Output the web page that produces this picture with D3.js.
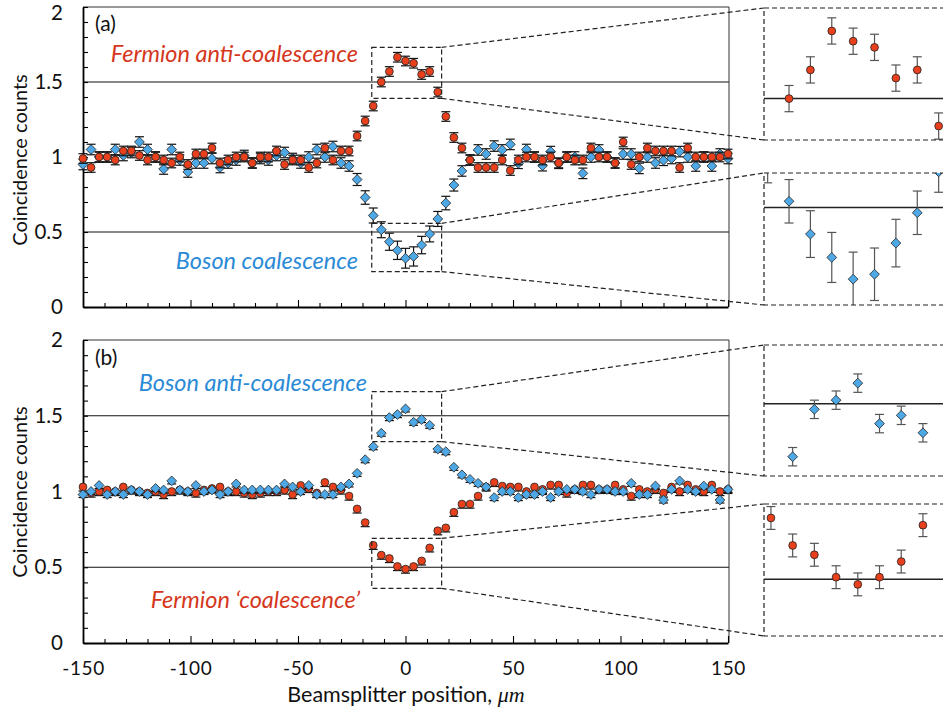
<!DOCTYPE html>
<html lang="en">
<head>
<meta charset="UTF-8">
<title>Coincidence counts</title>
<style>
body { margin: 0; background: #fff; }
svg { display: block; font-family: Lato, "Open Sans", sans-serif; }
</style>
</head>
<body>
<svg id="chart" width="943" height="715"></svg>
<script src="https://cdn.jsdelivr.net/npm/d3@7"></script>
<script>
// beamsplitter positions (um)
const positions = [-150,-146.25,-142.5,-138.75,-135,-131.25,-127.5,-123.75,-120,-116.25,
  -112.5,-108.75,-105,-101.25,-97.5,-93.75,-90,-86.25,-82.5,-78.75,
  -75,-71.25,-67.5,-63.75,-60,-56.25,-52.5,-48.75,-45,-41.25,
  -37.5,-33.75,-30,-26.25,-22.5,-18.75,-15,-11.25,-7.5,-3.75,
  0,3.75,7.5,11.25,15,18.75,22.5,26.25,30,33.75,
  37.5,41.25,45,48.75,52.5,56.25,60,63.75,67.5,71.25,
  75,78.75,82.5,86.25,90,93.75,97.5,101.25,105,108.75,
  112.5,116.25,120,123.75,127.5,131.25,135,138.75,142.5,146.25,150];

// panel (a)
const fermionA = [0.99,0.93,1.00,1.00,0.98,1.04,1.04,1.01,0.98,1.00,
  0.98,0.96,1.00,0.95,1.02,1.02,1.06,0.96,0.98,1.00,
  1.00,0.96,1.00,1.00,1.04,0.95,0.98,0.98,0.93,0.96,
  1.06,0.98,1.04,1.04,1.14,1.24,1.34,1.50,1.57,1.665,
  1.64,1.625,1.55,1.57,1.433,1.27,1.13,1.06,0.98,0.93,
  0.93,0.93,0.98,0.91,0.98,1.00,1.00,0.98,1.00,0.96,
  1.00,0.98,0.98,1.06,1.00,1.00,0.96,1.10,0.95,1.00,
  1.06,1.04,1.04,1.04,0.93,1.06,1.00,1.00,1.00,1.00,1.02];
const bosonA = [0.95,1.05,1.00,1.00,1.05,1.01,1.03,1.10,1.05,1.00,
  0.92,1.05,0.98,0.90,0.96,0.96,0.99,0.93,0.96,0.98,
  1.01,0.96,0.99,0.98,1.01,1.03,0.99,0.96,1.00,1.05,
  1.00,1.07,0.96,0.94,0.85,0.73,0.61,0.515,0.435,0.378,
  0.325,0.337,0.413,0.487,0.587,0.693,0.813,0.907,0.98,1.047,
  1.02,1.073,1.047,1.084,0.958,1.05,1.00,0.942,1.036,0.958,
  1.00,1.00,0.891,1.00,1.047,1.00,0.96,1.02,1.02,0.924,
  1.00,0.96,0.978,0.99,1.036,1.00,0.94,1.00,0.94,1.02,0.99];
const errFermionA = 0.032;
const errBosonA = [0.035,0.035,0.035,0.035,0.035,0.035,0.035,0.035,0.035,0.035,
  0.035,0.035,0.035,0.035,0.035,0.035,0.035,0.035,0.035,0.035,
  0.035,0.035,0.035,0.035,0.035,0.035,0.035,0.035,0.035,0.035,
  0.035,0.035,0.035,0.035,0.04,0.045,0.05,0.053,0.057,0.061,
  0.066,0.064,0.058,0.053,0.05,0.045,0.04,0.035,0.035,0.035,
  0.035,0.035,0.035,0.035,0.035,0.035,0.035,0.035,0.035,0.035,
  0.035,0.035,0.035,0.035,0.035,0.035,0.035,0.035,0.035,0.035,
  0.035,0.035,0.035,0.035,0.035,0.035,0.035,0.035,0.035,0.035,0.035];

// panel (b)
const fermionB = [1.03,0.99,1.00,1.01,1.00,1.03,1.01,1.00,0.99,1.00,
  0.98,1.00,1.01,1.00,0.99,1.01,1.02,1.03,1.00,1.00,
  0.99,0.98,0.99,1.00,1.00,1.01,0.98,1.04,1.02,0.99,
  1.06,1.03,1.01,0.97,0.885,0.795,0.645,0.58,0.558,0.505,
  0.488,0.505,0.542,0.628,0.741,0.76,0.863,0.917,0.917,0.97,
  1.03,1.06,1.036,1.03,1.03,1.00,1.03,1.014,1.043,1.043,
  0.99,1.014,1.043,1.043,1.014,1.014,1.043,1.014,0.97,1.014,
  1.00,1.014,0.99,1.03,1.00,1.043,1.014,1.00,1.043,1.00,1.014];
const bosonB = [0.98,1.00,1.04,0.98,1.00,0.98,1.01,1.00,0.98,1.02,
  1.01,1.07,1.01,1.00,1.04,1.00,1.01,0.98,1.00,1.05,
  1.01,1.01,1.01,1.01,1.01,1.05,1.03,1.00,1.04,0.98,
  0.98,0.98,1.03,1.05,1.12,1.21,1.296,1.385,1.488,1.508,
  1.545,1.457,1.475,1.437,1.28,1.263,1.16,1.11,1.08,1.054,
  1.03,0.96,1.00,1.00,0.96,0.98,0.98,1.00,0.96,1.00,
  1.014,1.014,1.00,0.98,1.014,1.014,1.00,1.00,1.054,0.98,
  0.98,1.036,0.944,1.014,1.07,1.014,1.00,1.036,1.014,0.944,1.014];
const errFermionB = 0.027;
const errBosonB = 0.02;

const yTicks = [0, 0.5, 1, 1.5, 2];
const xTicks = [-150, -100, -50, 0, 50, 100, 150];
const refLevels = [0.5, 1.5];

const red = "#e8401c", blue = "#4ea8e6";
const redText = "#d5371d", blueText = "#2b8ad6";

const svg = d3.select("#chart");
const x = d3.scaleLinear().domain([-150, 150]).range([83, 728]);
const insetLeft = 764;

function errOf(e, i) { return Array.isArray(e) ? e[i] : e; }

function marker(sel, shape, color) {
  if (shape === "circle") {
    sel.append("circle").attr("r", 3.9).attr("fill", color)
      .attr("stroke", "#222").attr("stroke-width", 0.8);
  } else {
    const s = 4.9;
    sel.append("path").attr("d", `M0,${-s}L${s},0L0,${s}L${-s},0Z`).attr("fill", color)
      .attr("stroke", "#222").attr("stroke-width", 0.8);
  }
}

function drawSeries(g, xs, ys, vals, err, shape, color, lowerOnly, barColor) {
  const pts = vals.map((v, i) => ({ x: positions[i], v: v, e: errOf(err, i) }));
  const eb = g.append("g").attr("stroke", barColor).attr("stroke-width", 1.2);
  pts.forEach(d => {
    const cx = xs(d.x), lo = ys(d.v - d.e), hi = lowerOnly ? ys(d.v) : ys(d.v + d.e);
    eb.append("line").attr("x1", cx).attr("x2", cx).attr("y1", lo).attr("y2", hi);
    eb.append("line").attr("x1", cx - 4.5).attr("x2", cx + 4.5).attr("y1", lo).attr("y2", lo);
    if (!lowerOnly) eb.append("line").attr("x1", cx - 4.5).attr("x2", cx + 4.5).attr("y1", hi).attr("y2", hi);
  });
  g.append("g").selectAll("g").data(pts).join("g")
    .attr("transform", d => `translate(${xs(d.x)},${ys(d.v)})`)
    .each(function () { marker(d3.select(this), shape, color); });
}

const panels = [
  {
    label: "(a)", top: 7, bottom: 307, labelY: 31, titleY: 160, lowerOnly: false,
    back: { vals: bosonA, err: errBosonA, shape: "diamond", color: blue },
    front: { vals: fermionA, err: errFermionA, shape: "circle", color: red },
    notes: [
      { text: "Fermion anti-coalescence", color: redText, x: 358, y: 62 },
      { text: "Boson coalescence", color: blueText, x: 358, y: 269 }
    ],
    zooms: [
      { vals: fermionA, err: errFermionA, shape: "circle", color: red, ref: 1.5,
        boxX: [-15.7, 16.8], boxY: [1.391, 1.731],
        inTop: 8, inBottom: 140, inY: [1.399, 1.721], inX0: -15.64, pxPerUm: 5.70 },
      { vals: bosonA, err: errBosonA, shape: "diamond", color: blue, ref: 0.5,
        boxX: [-15.7, 16.8], boxY: [0.236, 0.558],
        inTop: 173, inBottom: 305, inY: [0.262, 0.584], inX0: -15.64, pxPerUm: 5.70 }
    ]
  },
  {
    label: "(b)", top: 340, bottom: 643, labelY: 365, titleY: 492, lowerOnly: true,
    back: { vals: fermionB, err: errFermionB, shape: "circle", color: red },
    front: { vals: bosonB, err: errBosonB, shape: "diamond", color: blue },
    notes: [
      { text: "Boson anti-coalescence", color: blueText, x: 367, y: 391 },
      { text: "Fermion \u2018coalescence\u2019", color: redText, x: 360, y: 608 }
    ],
    zooms: [
      { vals: bosonB, err: errBosonB, shape: "diamond", color: blue, ref: 1.5,
        boxX: [-15.7, 16.8], boxY: [1.329, 1.659],
        inTop: 345, inBottom: 476, inY: [1.343, 1.628], inX0: -16.2, pxPerUm: 5.79 },
      { vals: fermionB, err: errFermionB, shape: "circle", color: red, ref: 0.5,
        boxX: [-15.7, 16.8], boxY: [0.361, 0.691],
        inTop: 504, inBottom: 636, inY: [0.366, 0.678], inX0: -16.2, pxPerUm: 5.79 }
    ]
  }
];

panels.forEach((p, pi) => {
  const y = d3.scaleLinear().domain([0, 2]).range([p.bottom, p.top]);
  const g = svg.append("g");

  // reference lines
  g.selectAll(".ref").data(refLevels).join("line")
    .attr("x1", x(-150)).attr("x2", x(150) + 1)
    .attr("y1", d => y(d)).attr("y2", d => y(d))
    .attr("stroke", "#111").attr("stroke-width", 1);

  // top and right frame
  g.append("path").attr("d", `M${x(-150)},${y(2)}H${x(150) + 1}V${y(0)}`)
    .attr("fill", "none").attr("stroke", "#333").attr("stroke-width", 1);

  // y axis, inner minor ticks
  const ya = g.append("g").attr("transform", `translate(${x(-150)},0)`)
    .call(d3.axisLeft(y).tickValues(d3.range(0, 2.001, 0.1)).tickSize(-5).tickSizeOuter(0).tickFormat(""));
  ya.select(".domain").attr("stroke-width", 1.8);
  ya.selectAll(".tick line").attr("stroke-width", 1.1);

  const yl = g.append("g").attr("transform", `translate(${x(-150)},0)`)
    .call(d3.axisLeft(y).tickValues(yTicks).tickSize(0).tickPadding(20).tickFormat(d => String(d)));
  yl.select(".domain").remove();
  yl.selectAll("text").attr("font-size", 20.5).attr("fill", "#111")
    .attr("font-family", "Lato, 'Open Sans', sans-serif");
  if (pi === 0) yl.selectAll("text").filter(d => d === 2).attr("dy", "0.62em");

  // x axis, inner ticks every 10
  const xa = g.append("g").attr("transform", `translate(0,${y(0)})`)
    .call(d3.axisBottom(x).tickValues(d3.range(-150, 151, 10)).tickSize(-4).tickSizeOuter(0).tickFormat(""));
  xa.select(".domain").attr("stroke-width", 1.8);
  xa.selectAll(".tick line").attr("stroke-width", 1.1)
    .filter(d => d % 50 === 0).attr("y2", -7);

  if (pi === 1) {
    const xl = g.append("g").attr("transform", `translate(0,${y(0)})`)
      .call(d3.axisBottom(x).tickValues(xTicks).tickSize(0).tickPadding(19).tickFormat(d => String(d)));
    xl.select(".domain").remove();
    xl.selectAll("text").attr("font-size", 19).attr("fill", "#111")
      .attr("letter-spacing", 0.6)
      .attr("font-family", "Lato, 'Open Sans', sans-serif");
  }

  // data
  drawSeries(g, x, y, p.back.vals, p.back.err, p.back.shape, p.back.color, p.lowerOnly, "#111");
  drawSeries(g, x, y, p.front.vals, p.front.err, p.front.shape, p.front.color, p.lowerOnly, "#111");

  // panel label and notes
  g.append("text").attr("x", 95).attr("y", p.labelY).attr("font-size", 21).attr("fill", "#111").text(p.label);
  p.notes.forEach(n => {
    g.append("text").attr("x", n.x).attr("y", n.y).attr("text-anchor", "end")
      .attr("font-size", 23.5).attr("font-style", "italic").attr("fill", n.color).text(n.text);
  });

  g.append("text").attr("transform", `translate(27,${p.titleY}) rotate(-90)`)
    .attr("text-anchor", "middle").attr("font-size", 20).attr("fill", "#111")
    .text("Coincidence counts");

  // zoom boxes and insets
  p.zooms.forEach((z, zi) => {
    const bx0 = x(z.boxX[0]), bx1 = x(z.boxX[1]);
    const by0 = y(z.boxY[1]), by1 = y(z.boxY[0]);
    const dash = { stroke: "#222", "stroke-width": 1.2, "stroke-dasharray": "5,3", fill: "none" };
    const setDash = s => { Object.entries(dash).forEach(([k, v]) => s.attr(k, v)); return s; };

    setDash(g.append("rect").attr("x", bx0).attr("y", by0).attr("width", bx1 - bx0).attr("height", by1 - by0));
    setDash(g.append("line").attr("x1", bx1).attr("y1", by0).attr("x2", insetLeft).attr("y2", z.inTop));
    setDash(g.append("line").attr("x1", bx1).attr("y1", by1).attr("x2", insetLeft).attr("y2", z.inBottom));

    const ix = d3.scaleLinear().domain([z.inX0, z.inX0 + 40]).range([insetLeft, insetLeft + 40 * z.pxPerUm]);
    const iy = d3.scaleLinear().domain(z.inY).range([z.inBottom, z.inTop]);
    const cid = `clip${pi}${zi}`;
    svg.append("clipPath").attr("id", cid).append("rect")
      .attr("x", insetLeft).attr("y", z.inTop).attr("width", 200).attr("height", z.inBottom - z.inTop);
    const ig = g.append("g").attr("clip-path", `url(#${cid})`);
    ig.append("line").attr("x1", insetLeft).attr("x2", 943)
      .attr("y1", iy(z.ref)).attr("y2", iy(z.ref)).attr("stroke", "#222").attr("stroke-width", 1.5);
    drawSeries(ig, ix, iy, z.vals, z.err, z.shape, z.color, false, "#555");
    setDash(g.append("rect").attr("x", insetLeft).attr("y", z.inTop)
      .attr("width", 300).attr("height", z.inBottom - z.inTop));
  });
});

// x axis title
const xt = svg.append("text").attr("x", 406).attr("y", 702).attr("text-anchor", "middle")
  .attr("font-size", 21.5).attr("fill", "#111");
xt.append("tspan").text("Beamsplitter position, ");
xt.append("tspan").attr("font-family", "'Liberation Serif', 'DejaVu Serif', serif")
  .attr("font-style", "italic").attr("font-size", 22).text("\u03bcm");
</script>
</body>
</html>
